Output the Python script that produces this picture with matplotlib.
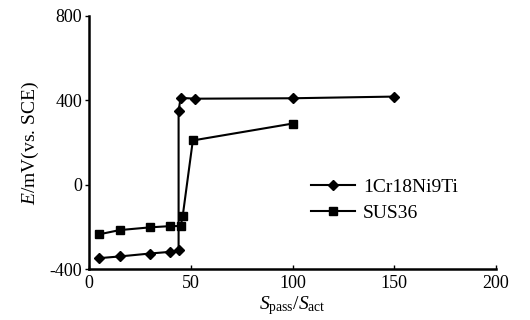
import matplotlib
matplotlib.use("Agg")
import matplotlib.pyplot as plt

plt.rcParams['font.family'] = ['Liberation Serif', 'DejaVu Serif']
plt.rcParams['mathtext.fontset'] = 'custom'
plt.rcParams['mathtext.rm'] = 'Liberation Serif'
plt.rcParams['mathtext.it'] = 'Liberation Serif:italic'

cr_x = [5, 15, 30, 40, 44, 44, 45, 52, 100, 150]
cr_y = [-348, -340, -326, -318, -310, 350, 412, 408, 410, 418]
sus_x = [5, 15, 30, 40, 45, 46, 51, 100]
sus_y = [-235, -215, -202, -196, -196, -150, 210, 290]
xticks = [0, 50, 100, 150, 200]
yticks = [-400, 0, 400, 800]

fig = plt.figure(figsize=(5.3, 3.2), dpi=100)
ax = fig.add_axes([0.168, 0.159, 0.768, 0.791])
ax.plot(cr_x, cr_y, color='black', lw=1.5, marker='D', ms=5, label='1Cr18Ni9Ti')
ax.plot(sus_x, sus_y, color='black', lw=1.5, marker='s', ms=5.5, label='SUS36')
ax.set_xlim(0, 200)
ax.set_ylim(-400, 800)
ax.set_xticks(xticks)
ax.set_yticks(yticks)
ax.set_yticklabels(['-400', '0', '400', '800'])
ax.spines['top'].set_visible(False)
ax.spines['right'].set_visible(False)
ax.spines['left'].set_linewidth(1.8)
ax.spines['bottom'].set_linewidth(1.8)
ax.tick_params(axis='x', direction='in', length=3, width=1, labelsize=13, pad=4)
ax.tick_params(axis='y', direction='out', length=3, width=1, labelsize=13, pad=2)
ax.set_xlabel(r'$S_{\mathrm{pass}}/S_{\mathrm{act}}$', fontsize=14, labelpad=2)
ax.set_ylabel(r'$E$/mV(vs. SCE)', fontsize=14, labelpad=6)
ax.legend(loc='upper left', bbox_to_anchor=(0.525, 0.39), frameon=False,
          fontsize=14, handlelength=2.3, handletextpad=0.4, labelspacing=0.45,
          borderaxespad=0)
fig.savefig('out.png', dpi=100)
